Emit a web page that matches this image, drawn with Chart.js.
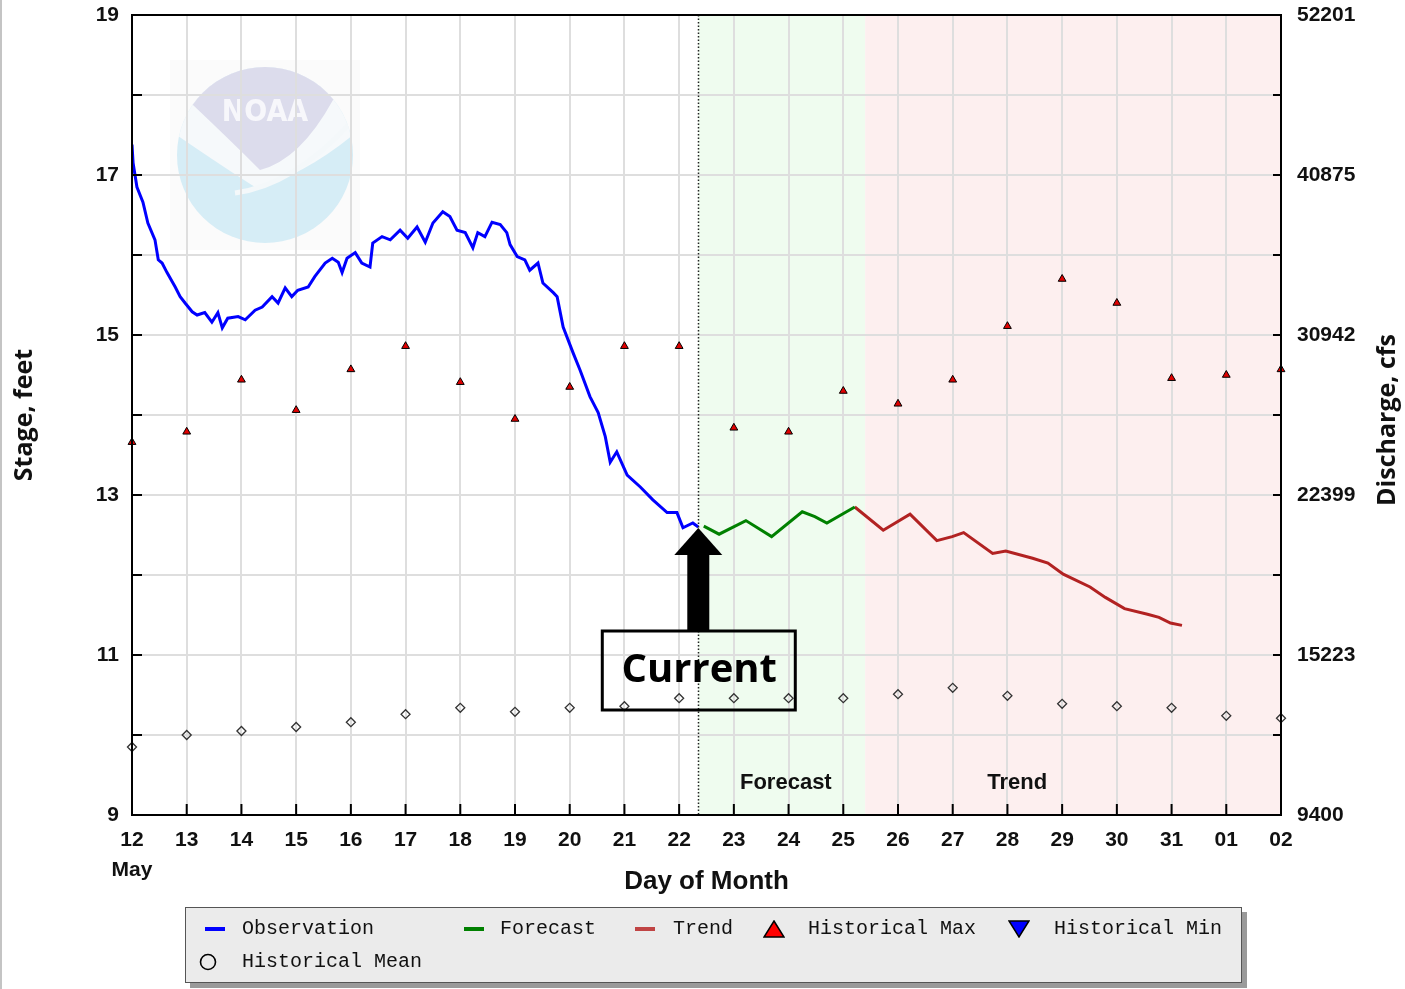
<!DOCTYPE html>
<html><head><meta charset="utf-8">
<script src="https://cdn.jsdelivr.net/npm/chart.js@4.4.0/dist/chart.umd.min.js"></script>
<style>
html,body{margin:0;padding:0;background:#fff;}
#wrap{position:relative;width:1405px;height:989px;overflow:hidden;}
#edge{position:absolute;left:0;top:0;width:2px;height:989px;background:#c4c4c4;}
#legend{position:absolute;left:185px;top:907px;width:1055px;height:74px;background:#ebebeb;border:1px solid #555;box-shadow:5px 5px 0 #9a9a9a;font-family:'Liberation Mono','DejaVu Sans Mono',monospace;font-size:20px;color:#111;}
#legend .t{position:absolute;line-height:24px;white-space:pre;}
#legend .ic{position:absolute;}
</style>
</head><body>
<div id="wrap">
<canvas id="c" width="1405" height="989"></canvas>
<div id="edge"></div>
<div id="legend"></div>
</div>
<script>
// ---------------- DATA ----------------
const dayLabels = ['12','13','14','15','16','17','18','19','20','21','22','23','24','25','26','27','28','29','30','31','01','02'];
const monthLabel = 'May';
const stageTicks = [9,11,13,15,17,19];
const dischargeLabels = ['9400','15223','22399','30942','40875','52201'];

// Observation (day offset from May 12, stage ft)
const obsDays = [0.00,0.02,0.09,0.20,0.29,0.42,0.48,0.55,0.64,0.79,0.88,0.97,1.10,1.19,1.33,1.46,1.57,1.65,1.75,1.94,2.07,2.25,2.38,2.56,2.67,2.80,2.92,3.03,3.22,3.34,3.53,3.66,3.77,3.84,3.93,4.08,4.20,4.35,4.40,4.57,4.72,4.90,5.04,5.21,5.36,5.50,5.68,5.81,5.94,6.09,6.23,6.32,6.45,6.58,6.73,6.85,6.91,7.04,7.18,7.27,7.42,7.51,7.70,7.77,7.88,8.06,8.19,8.37,8.52,8.65,8.74,8.86,9.05,9.29,9.52,9.78,9.96,10.07,10.25,10.35];
const obsStage = [17.38,17.15,16.85,16.66,16.40,16.19,15.94,15.90,15.78,15.60,15.48,15.40,15.29,15.25,15.28,15.16,15.28,15.09,15.21,15.23,15.19,15.31,15.35,15.48,15.40,15.59,15.48,15.56,15.60,15.73,15.90,15.96,15.91,15.78,15.96,16.03,15.90,15.85,16.15,16.23,16.19,16.31,16.21,16.35,16.16,16.40,16.54,16.48,16.31,16.28,16.09,16.28,16.23,16.41,16.38,16.28,16.13,15.98,15.94,15.81,15.90,15.65,15.53,15.48,15.10,14.78,14.56,14.23,14.03,13.73,13.41,13.54,13.25,13.10,12.94,12.78,12.78,12.59,12.65,12.60];

// Forecast
const fcDays  = [10.45,10.73,11.22,11.69,12.25,12.48,12.70,13.21];
const fcStage = [12.61,12.51,12.68,12.48,12.79,12.73,12.65,12.85];

// Trend
const trDays  = [13.21,13.73,14.22,14.71,14.99,15.20,15.73,15.97,16.46,16.74,17.02,17.51,17.79,18.14,18.56,18.77,18.98,19.19];
const trStage = [12.85,12.56,12.76,12.43,12.48,12.53,12.27,12.30,12.21,12.15,12.01,11.85,11.72,11.58,11.51,11.47,11.40,11.37];

// Historical max / mean, one per day label
const histMax  = [13.66,13.79,14.44,14.06,14.57,14.86,14.41,13.95,14.35,14.86,14.86,13.84,13.79,14.30,14.14,14.44,15.11,15.70,15.40,14.46,14.50,14.57];
const histMean = [9.85,10.00,10.05,10.10,10.16,10.26,10.34,10.29,10.34,10.36,10.46,10.46,10.46,10.46,10.51,10.59,10.49,10.39,10.36,10.34,10.24,10.21];

const currentDay = 10.35;
const currentStage = 12.60;
const forecastEndDay = 13.40;
const lastDay = 21;
const forecastLabelPos = [11.95, 9.4];
const trendLabelPos = [16.18, 9.4];

// ---------------- COLOURS ----------------
const C_OBS = '#0000ff', C_FC = '#008000', C_TR = '#b22222';

const pts = (xs, ys) => xs.map((x,i)=>({x, y: ys[i]}));
const dayIdx = dayLabels.map((_,i)=>i);

const bgPlugin = {
  id:'bg',
  beforeDraw(chart){
    const {ctx, chartArea:a, scales:{x,y}} = chart;
    ctx.save();
    // shading
    const xc = x.getPixelForValue(currentDay), xf = x.getPixelForValue(forecastEndDay), xe = x.getPixelForValue(lastDay);
    ctx.fillStyle = '#effcef'; ctx.fillRect(xc, a.top, xf - xc, a.bottom - a.top);
    ctx.fillStyle = '#fdefef'; ctx.fillRect(xf, a.top, xe - xf, a.bottom - a.top);
    // NOAA watermark
    const cx = a.left + 133, cy = a.top + 140, r = 88;
    ctx.fillStyle = '#fbfbfb'; ctx.fillRect(cx-95, cy-95, 190, 190);
    ctx.beginPath(); ctx.arc(cx, cy, r, 0, Math.PI*2); ctx.fillStyle = '#d6edf6'; ctx.fill();
    ctx.save();
    ctx.beginPath(); ctx.arc(cx, cy, r, 0, Math.PI*2); ctx.clip();
    // white wing
    ctx.beginPath();
    ctx.moveTo(cx-100, cy-100); ctx.lineTo(cx+100, cy-100); ctx.lineTo(cx+100, cy-30);
    ctx.quadraticCurveTo(cx+40, cy+22, cx-10, cy+32);
    ctx.quadraticCurveTo(cx-45, cy+10, cx-100, cy-28);
    ctx.closePath(); ctx.fillStyle = '#f6f9fb'; ctx.fill();
    // lavender top
    ctx.beginPath();
    ctx.moveTo(cx-100, cy-100); ctx.lineTo(cx+100, cy-100); ctx.lineTo(cx+100, cy-62);
    ctx.lineTo(cx+68, cy-55);
    ctx.quadraticCurveTo(cx+35, cy+5, cx-5, cy+15);
    ctx.quadraticCurveTo(cx-35, cy-15, cx-72, cy-50);
    ctx.lineTo(cx-100, cy-55);
    ctx.closePath(); ctx.fillStyle = '#dcdcec'; ctx.fill();
    // swoosh
    ctx.beginPath(); ctx.moveTo(cx-30, cy+38); ctx.quadraticCurveTo(cx+30, cy+30, cx+88, cy-35);
    ctx.strokeStyle = '#f4f8fa'; ctx.lineWidth = 5; ctx.stroke();
    ctx.restore();
    ctx.fillStyle = '#f7f7fb'; ctx.font = 'bold 30px "DejaVu Sans Condensed", "Liberation Sans Narrow", sans-serif';
    ctx.textAlign = 'center'; ctx.textBaseline = 'middle';
    ctx.fillText('NOAA', cx, cy-42);
    ctx.restore();
  },
  afterDatasetsDraw(chart){
    const {ctx, chartArea:a, scales:{x}} = chart;
    const xc = Math.round(x.getPixelForValue(currentDay)) + 0.5;
    ctx.save();
    ctx.strokeStyle = '#222'; ctx.lineWidth = 1.5; ctx.setLineDash([1.5,2]);
    ctx.beginPath(); ctx.moveTo(xc, a.top); ctx.lineTo(xc, a.bottom); ctx.stroke();
    ctx.restore();
  },
  afterDraw(chart){
    const {ctx, chartArea:a, scales:{x,y}} = chart;
    ctx.save();
    // tick marks
    ctx.strokeStyle = '#000'; ctx.lineWidth = 2;
    ctx.beginPath();
    for (let v = 9; v <= 19; v++) {
      const py = y.getPixelForValue(v);
      ctx.moveTo(a.left, py); ctx.lineTo(a.left + 10, py);
      ctx.moveTo(a.right - 8, py); ctx.lineTo(a.right, py);
    }
    dayIdx.forEach(d => { const px = x.getPixelForValue(d); ctx.moveTo(px, a.bottom); ctx.lineTo(px, a.bottom - 11); });
    ctx.stroke();
    // frame
    ctx.strokeRect(a.left, a.top, a.right - a.left, a.bottom - a.top);
    // region labels
    ctx.fillStyle = '#111'; ctx.font = 'bold 22px "Liberation Sans", Arial, sans-serif';
    ctx.textAlign = 'center'; ctx.textBaseline = 'middle';
    ctx.fillText('Forecast', x.getPixelForValue(forecastLabelPos[0]), y.getPixelForValue(forecastLabelPos[1]));
    ctx.fillText('Trend', x.getPixelForValue(trendLabelPos[0]), y.getPixelForValue(trendLabelPos[1]));
    // right axis title (reads bottom to top)
    ctx.save();
    ctx.translate(a.right + 107, (a.top + a.bottom)/2 + 5);
    ctx.rotate(-Math.PI/2);
    ctx.font = 'bold 25px "Open Sans", sans-serif'; ctx.fillStyle = '#111';
    ctx.fillText('Discharge, cfs', 0, 0);
    ctx.restore();
    // Current arrow + box (box unfilled)
    const cx = x.getPixelForValue(currentDay), ty = y.getPixelForValue(currentStage);
    ctx.fillStyle = '#000';
    ctx.beginPath(); ctx.moveTo(cx, ty + 1); ctx.lineTo(cx + 24, ty + 28); ctx.lineTo(cx - 24, ty + 28); ctx.closePath(); ctx.fill();
    ctx.fillRect(cx - 11, ty + 27, 22, 78);
    ctx.lineWidth = 3; ctx.strokeStyle = '#000'; ctx.strokeRect(cx - 96, ty + 104, 193, 79);
    ctx.fillStyle = '#000'; ctx.font = 'bold 40px "Open Sans", sans-serif';
    ctx.fillText('Current', cx + 1, ty + 144);
    ctx.restore();
  }
};

const tickFont = {family:'"Liberation Sans", Arial, sans-serif', size:21, weight:'bold', lineHeight:1.45};

new Chart(document.getElementById('c'), {
  type:'scatter',
  data:{datasets:[
    {label:'Observation', data:pts(obsDays, obsStage), showLine:true, borderColor:C_OBS, backgroundColor:C_OBS, borderWidth:3, pointRadius:0, yAxisID:'y'},
    {label:'Forecast', data:pts(fcDays, fcStage), showLine:true, borderColor:C_FC, backgroundColor:C_FC, borderWidth:3, pointRadius:0, yAxisID:'y'},
    {label:'Trend', data:pts(trDays, trStage), showLine:true, borderColor:C_TR, backgroundColor:C_TR, borderWidth:3, pointRadius:0, yAxisID:'y'},
    {label:'Historical Max', data:pts(dayIdx, histMax), showLine:false, pointStyle:'triangle', pointRadius:4.5, backgroundColor:'#e00000', borderColor:'#000', borderWidth:1, clip:false, yAxisID:'y'},
    {label:'Historical Mean', data:pts(dayIdx, histMean), showLine:false, pointStyle:'rectRot', pointRadius:4.5, backgroundColor:'rgba(255,255,255,0)', borderColor:'#333', borderWidth:1.3, clip:false, yAxisID:'y'}
  ]},
  options:{
    responsive:false, animation:false, devicePixelRatio:1,
    layout:{padding:{top:15,left:0,right:0,bottom:0}},
    plugins:{legend:{display:false}, tooltip:{enabled:false}},
    scales:{
      x:{type:'linear', min:0, max:lastDay,
        afterFit(s){ s.height = 174; s.paddingLeft = 0; s.paddingRight = 0; },
        grid:{color:'#dedede', lineWidth:2, drawTicks:false},
        border:{display:false},
        ticks:{stepSize:1, autoSkip:false, maxRotation:0, padding:10, color:'#111', font:tickFont,
          callback:(v,i)=> i===0 ? [dayLabels[v], monthLabel] : dayLabels[v]},
        title:{display:true, text:'Day of Month', color:'#111', font:{family:'"Liberation Sans", Arial, sans-serif', size:26, weight:'bold', lineHeight:1.2}, padding:{top:0,bottom:92}}
      },
      y:{type:'linear', position:'left', min:9, max:19,
        afterFit(s){ s.width = 132; s.paddingTop = 0; s.paddingBottom = 0; },
        grid:{color:'#dedede', lineWidth:2, drawTicks:false},
        border:{display:false},
        ticks:{stepSize:1, padding:13, color:'#111', font:tickFont,
          callback:(v)=> stageTicks.includes(v) ? String(v) : ''},
        title:{display:true, text:'Stage, feet', color:'#111', font:{family:'"Open Sans", sans-serif', size:25, weight:'bold', lineHeight:1.2}, padding:{top:10,bottom:0}}
      },
      y2:{type:'linear', position:'right', min:9, max:19,
        afterFit(s){ s.width = 124; s.paddingTop = 0; s.paddingBottom = 0; },
        grid:{drawOnChartArea:false, drawTicks:false},
        border:{display:false},
        ticks:{stepSize:1, padding:16, color:'#111', font:tickFont,
          callback:(v)=> { const k = stageTicks.indexOf(v); return k >= 0 ? dischargeLabels[k] : ''; }}
      }
    }
  },
  plugins:[bgPlugin]
});

// ---------------- LEGEND (HTML) ----------------
const legendItems = [
  {text:'Observation', kind:'line', color:C_OBS, ix:19, tx:56, row:0},
  {text:'Forecast', kind:'line', color:C_FC, ix:278, tx:314, row:0},
  {text:'Trend', kind:'line', color:'#c04444', ix:449, tx:487, row:0},
  {text:'Historical Max', kind:'up', color:'#ff0000', ix:577, tx:622, row:0},
  {text:'Historical Min', kind:'down', color:'#0000ff', ix:822, tx:868, row:0},
  {text:'Historical Mean', kind:'circle', color:'#000', ix:12, tx:56, row:1}
];
const rowY = [21, 54];
const leg = document.getElementById('legend');
legendItems.forEach(it => {
  const cy = rowY[it.row];
  let ic = document.createElement('div'); ic.className = 'ic';
  if (it.kind === 'line') {
    ic.style.cssText = `left:${it.ix}px;top:${cy-2}px;width:20px;height:4px;background:${it.color};`;
  } else {
    let svg;
    if (it.kind === 'up') svg = `<svg width="22" height="18"><polygon points="11,1 21,17 1,17" fill="${it.color}" stroke="#000" stroke-width="1.5"/></svg>`;
    else if (it.kind === 'down') svg = `<svg width="22" height="18"><polygon points="1,1 21,1 11,17" fill="${it.color}" stroke="#000" stroke-width="1.5"/></svg>`;
    else svg = `<svg width="20" height="18"><ellipse cx="10" cy="9" rx="7.5" ry="7.5" fill="none" stroke="#000" stroke-width="1.6"/></svg>`;
    ic.innerHTML = svg;
    ic.style.cssText = `left:${it.ix}px;top:${cy-9}px;`;
  }
  leg.appendChild(ic);
  const t = document.createElement('div'); t.className = 't';
  t.style.left = it.tx + 'px'; t.style.top = (cy - 12) + 'px';
  t.textContent = it.text;
  leg.appendChild(t);
});
</script>
</body></html>
